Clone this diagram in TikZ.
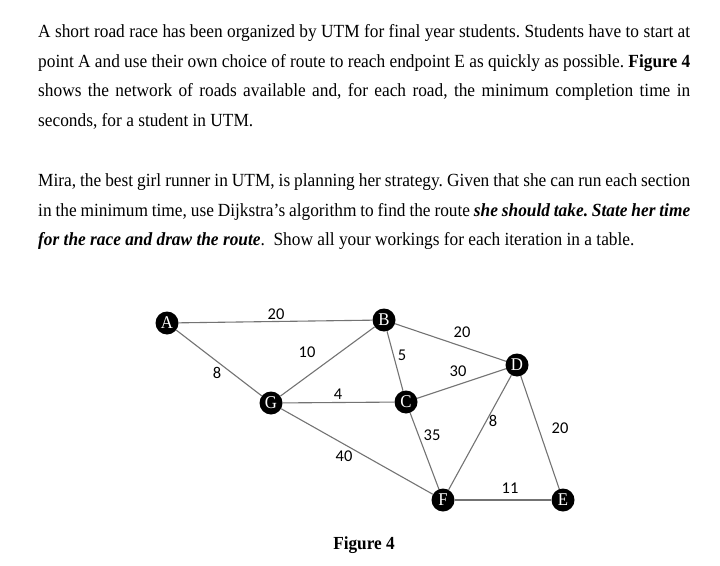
\documentclass[tikz,border=0pt]{standalone}
\usepackage{fontspec}
\setmainfont{Liberation Serif}[FakeStretch=0.935]
\newfontfamily\calibri{Carlito}
\frenchspacing

\begin{document}
\begin{tikzpicture}[x=1bp, y=-1bp,
        vertex/.style={circle, fill=black, minimum size=23bp, inner sep=0pt, text=white, font=\fontsize{18}{18}\selectfont},
        edge/.style={black!55, line width=1.1bp},
        weight/.style={inner sep=0pt, font=\calibri\fontsize{16.5}{16.5}\selectfont},
        para/.style={anchor=base west, inner sep=0pt, text width=652bp, align=justify, font=\fontsize{18.6}{29.5}\selectfont}
    ]
        \useasboundingbox (0,0) rectangle (720,566);

        \node[para] (intro) at (38,38) {A short road race has been organized by UTM for final year students. Students have to start at\linebreak point A and use their own choice of route to reach endpoint E as quickly as possible. \textbf{Figure 4}\linebreak shows the network of roads available and, for each road, the minimum completion time in\linebreak seconds, for a student in UTM.};
        \node[para] (task) at (38,187) {Mira, the best girl runner in UTM, is planning her strategy. Given that she can run each section\linebreak in the minimum time, use Dijkstra's algorithm to find the route \textbf{\textit{she should take. State her time}}\linebreak \textbf{\textit{for the race and draw the route}}.\ \ Show all your workings for each iteration in a table.};

        \node[vertex] (A) at (167,323) {A};
        \node[vertex] (B) at (384,320) {B};
        \node[vertex] (G) at (271,403) {G};
        \node[vertex] (C) at (406,402) {C};
        \node[vertex] (D) at (517,365) {D};
        \node[vertex] (F) at (443,500) {F};
        \node[vertex] (E) at (563,500) {E};

        \draw[edge] (A) -- (B);
        \draw[edge] (A) -- (G);
        \draw[edge] (G) -- (B);
        \draw[edge] (G) -- (C);
        \draw[edge] (B) -- (C);
        \draw[edge] (B) -- (D);
        \draw[edge] (C) -- (D);
        \draw[edge] (G) -- (F);
        \draw[edge] (C) -- (F);
        \draw[edge] (F) -- (D);
        \draw[edge] (D) -- (E);
        \draw[edge] (F) -- (E);

        \node[weight] (wAB) at (276,314) {20};
        \node[weight] (wGB) at (307,352) {10};
        \node[weight] (wAG) at (217,373) {8};
        \node[weight] (wGC) at (338,394) {4};
        \node[weight] (wBC) at (402,355) {5};
        \node[weight] (wBD) at (462,332) {20};
        \node[weight] (wCD) at (458,371) {30};
        \node[weight] (wCF) at (432,435) {35};
        \node[weight] (wFD) at (493,421) {8};
        \node[weight] (wDE) at (560,428) {20};
        \node[weight] (wFE) at (510,488) {11};
        \node[weight] (wGF) at (344,456) {40};

        \node[font=\bfseries\fontsize{18.5}{18.5}\selectfont] (caption) at (364,545) {Figure 4};
    \end{tikzpicture}
\end{document}
